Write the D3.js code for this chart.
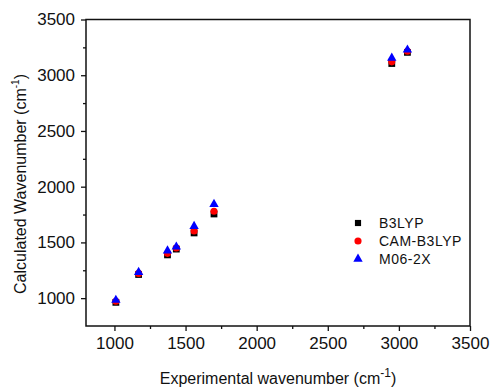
<!DOCTYPE html>
<html>
<head>
<meta charset="utf-8">
<script src="https://cdn.jsdelivr.net/npm/d3@7"></script>
<style>
  html, body { margin: 0; padding: 0; background: #fff; }
  svg text { font-family: "Liberation Sans", Arial, sans-serif; fill: #111; }
</style>
</head>
<body>
<div id="chart"></div>
<script>
// experimental wavenumbers (cm-1)
const experimental = [1010, 1170, 1373, 1435, 1560, 1700, 2950, 3060];
// calculated wavenumbers per method
const b3lyp   = [962, 1212, 1388, 1440, 1585, 1755, 3105, 3205];
const camB3lyp = [972, 1222, 1402, 1450, 1602, 1780, 3120, 3215];
const m062x   = [982, 1232, 1425, 1460, 1645, 1843, 3155, 3228];
const seriesNames = ["B3LYP", "CAM-B3LYP", "M06-2X"];
const majorTicksX = [1000, 1500, 2000, 2500, 3000, 3500];
const minorTicksX = [1250, 1750, 2250, 2750, 3250];
const majorTicksY = [1000, 1500, 2000, 2500, 3000, 3500];
const minorTicksY = [1250, 1750, 2250, 2750, 3250];

const width = 492, height = 388;
const margin = { top: 19.5, right: 22, bottom: 62, left: 86 };
const innerW = width - margin.left - margin.right;
const innerH = height - margin.top - margin.bottom;

const svg = d3.select("#chart").append("svg")
  .attr("width", width)
  .attr("height", height);

const g = svg.append("g")
  .attr("transform", "translate(" + margin.left + "," + margin.top + ")");

const x = d3.scaleLinear().domain([800, 3500]).range([0, innerW]);
const y = d3.scaleLinear().domain([750, 3500]).range([innerH, 0]);

// minor ticks
g.append("g")
  .attr("transform", "translate(0," + innerH + ")")
  .call(d3.axisBottom(x).tickValues(minorTicksX).tickSize(3).tickFormat(""))
  .call(a => a.select(".domain").remove());
g.append("g")
  .call(d3.axisLeft(y).tickValues(minorTicksY).tickSize(3).tickFormat(""))
  .call(a => a.select(".domain").remove());

// major axes
const xAxis = g.append("g")
  .attr("transform", "translate(0," + innerH + ")")
  .call(d3.axisBottom(x).tickValues(majorTicksX).tickSize(5).tickPadding(6).tickFormat(d3.format("d")));
const yAxis = g.append("g")
  .call(d3.axisLeft(y).tickValues(majorTicksY).tickSize(5).tickPadding(6).tickFormat(d3.format("d")));

[xAxis, yAxis].forEach(a => {
  a.selectAll("text").style("font-size", "17px").attr("fill", "#111");
  a.select(".domain").remove();
});
g.selectAll(".tick line").attr("stroke", "#111").attr("stroke-width", 1.3);

// frame
g.append("rect")
  .attr("x", 0).attr("y", 0)
  .attr("width", innerW).attr("height", innerH)
  .attr("fill", "none")
  .attr("stroke", "#111")
  .attr("stroke-width", 1.5);

// data
const rows = experimental.map((e, i) => ({ e, b: b3lyp[i], c: camB3lyp[i], m: m062x[i] }));

g.selectAll(".b3lyp").data(rows).enter().append("path")
  .attr("class", "b3lyp")
  .attr("transform", d => "translate(" + x(d.e) + "," + y(d.b) + ")")
  .attr("d", d3.symbol().type(d3.symbolSquare).size(46))
  .attr("fill", "#000");

g.selectAll(".cam").data(rows).enter().append("path")
  .attr("class", "cam")
  .attr("transform", d => "translate(" + x(d.e) + "," + y(d.c) + ")")
  .attr("d", d3.symbol().type(d3.symbolCircle).size(40))
  .attr("fill", "#ff0000");

g.selectAll(".m06").data(rows).enter().append("path")
  .attr("class", "m06")
  .attr("transform", d => "translate(" + x(d.e) + "," + y(d.m) + ")")
  .attr("d", d3.symbol().type(d3.symbolTriangle).size(38))
  .attr("fill", "#0000ff");

// legend
const legend = svg.append("g").attr("transform", "translate(358,223)");
const legendSymbols = [
  { type: d3.symbolSquare, size: 38, color: "#000" },
  { type: d3.symbolCircle, size: 40, color: "#ff0000" },
  { type: d3.symbolTriangle, size: 38, color: "#0000ff" }
];
seriesNames.forEach((name, i) => {
  const row = legend.append("g").attr("transform", "translate(0," + i * 18 + ")");
  row.append("path")
    .attr("d", d3.symbol().type(legendSymbols[i].type).size(legendSymbols[i].size))
    .attr("fill", legendSymbols[i].color);
  row.append("text")
    .attr("x", 21)
    .attr("y", 5)
    .style("font-size", "14px")
    .style("letter-spacing", "0.5px")
    .text(name);
});

// axis titles
const xTitle = svg.append("text")
  .attr("x", margin.left + innerW / 2)
  .attr("y", 384)
  .attr("text-anchor", "middle")
  .style("font-size", "16px");
xTitle.append("tspan").text("Experimental wavenumber (cm");
xTitle.append("tspan").attr("dy", -7).style("font-size", "12px").text("-1");
xTitle.append("tspan").attr("dy", 7).text(")");

const yTitle = svg.append("text")
  .attr("transform", "translate(26,184) rotate(-90)")
  .attr("text-anchor", "middle")
  .style("font-size", "16px");
yTitle.append("tspan").text("Calculated Wavenumber (cm");
yTitle.append("tspan").attr("dy", -7).style("font-size", "10px").text("-1");
yTitle.append("tspan").attr("dy", 7).text(")");
</script>
</body>
</html>
